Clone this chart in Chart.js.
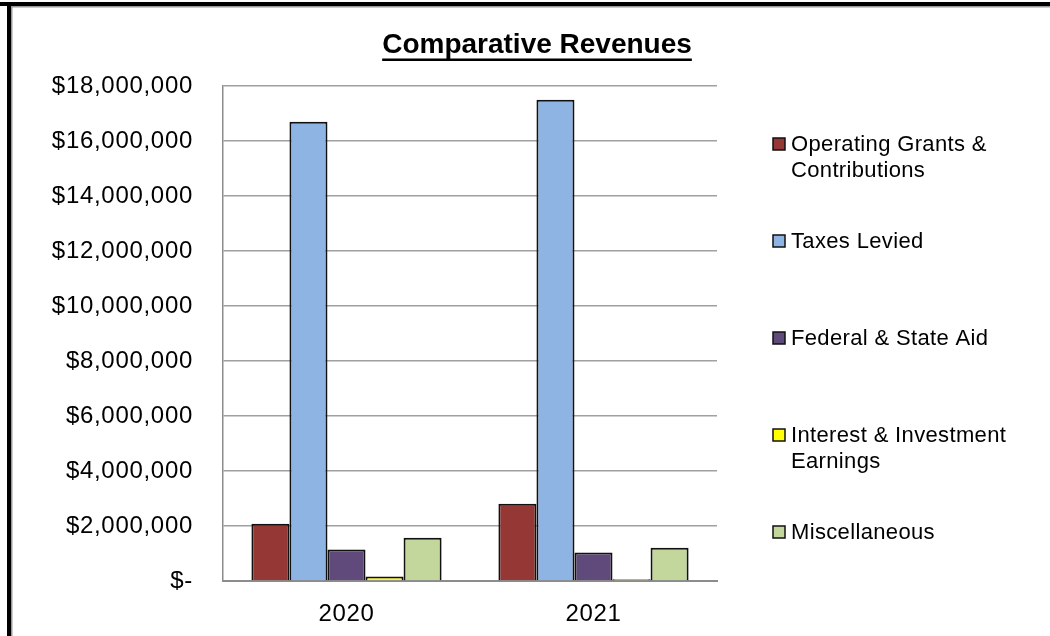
<!DOCTYPE html>
<html>
<head>
<meta charset="utf-8">
<title>Comparative Revenues</title>
<script src="https://cdn.jsdelivr.net/npm/chart.js@4.4.0/dist/chart.umd.min.js"></script>
<style>
  html, body { margin: 0; padding: 0; background: #ffffff; }
  #wrap { width: 1050px; height: 636px; position: relative; }
</style>
</head>
<body>
<div id="wrap"><canvas id="chart" width="1050" height="636"></canvas></div>
<script>
// Fiscal years shown on the category axis
const years = ['2020', '2021'];

// Revenue sources (series names)
const seriesNames = [
  'Operating Grants & Contributions',
  'Taxes Levied',
  'Federal & State Aid',
  'Interest & Investment Earnings',
  'Miscellaneous'
];

// Revenue by source, one value per year
const operatingGrants = [2080000, 2810000];
const taxesLevied = [16700000, 17500000];
const federalStateAid = [1150000, 1040000];
const interestEarnings = [160000, 60000];
const miscellaneous = [1570000, 1210000];

// Value axis tick labels (0 .. 18,000,000 in steps of 2,000,000)
const yTickLabels = ['$-', '$2,000,000', '$4,000,000', '$6,000,000', '$8,000,000',
  '$10,000,000', '$12,000,000', '$14,000,000', '$16,000,000', '$18,000,000'];

const seriesValues = [operatingGrants, taxesLevied, federalStateAid, interestEarnings, miscellaneous];
const seriesColors = ['#953735', '#8EB4E3', '#604A7B', '#FFFF00', '#C3D69B'];

const FONT = '"Liberation Sans", Arial, sans-serif';

// Frame, underlined title and the right-hand legend
const decorations = {
  id: 'decorations',
  beforeDraw(chart) {
    const ctx = chart.ctx;
    ctx.save();
    ctx.fillStyle = '#ffffff';
    ctx.fillRect(0, 0, chart.width, chart.height);
    // outer frame (top and left)
    ctx.fillStyle = '#000000';
    ctx.fillRect(0, 2, chart.width, 4);
    ctx.fillRect(7, 2, 4, chart.height);
    ctx.fillStyle = '#9a9a9a';
    ctx.fillRect(11, 6, chart.width - 11, 1.5);
    ctx.fillRect(11, 6, 1.5, chart.height);
    ctx.restore();
    // slightly open tracking for the axis labels
    ctx.letterSpacing = '0.7px';
  },
  afterDraw(chart) {
    const ctx = chart.ctx;
    ctx.save();
    ctx.letterSpacing = '0px';
    // title
    const title = 'Comparative Revenues';
    ctx.font = 'bold 28px ' + FONT;
    ctx.fillStyle = '#000000';
    ctx.textAlign = 'center';
    ctx.textBaseline = 'alphabetic';
    const tx = 537, ty = 53;
    ctx.fillText(title, tx, ty);
    const tw = ctx.measureText(title).width;
    ctx.fillRect(tx - tw / 2, 58.5, tw, 2.5);

    // legend
    ctx.font = '22px ' + FONT;
    ctx.letterSpacing = '0.35px';
    ctx.textAlign = 'left';
    ctx.textBaseline = 'middle';
    const boxX = 773, textX = 791, firstY = 144, step = 97, lineH = 26, maxW = 226;
    chart.data.datasets.forEach((ds, i) => {
      const y = firstY + i * step;
      ctx.fillStyle = ds.backgroundColor;
      ctx.fillRect(boxX, y - 6, 12, 12);
      ctx.strokeStyle = '#111111';
      ctx.lineWidth = 1.5;
      ctx.strokeRect(boxX, y - 6, 12, 12);
      // simple word wrap
      const words = ds.label.split(' ');
      const lines = [];
      let cur = '';
      words.forEach(w => {
        const test = cur ? cur + ' ' + w : w;
        if (ctx.measureText(test).width > maxW && cur) { lines.push(cur); cur = w; }
        else cur = test;
      });
      if (cur) lines.push(cur);
      ctx.fillStyle = '#000000';
      lines.forEach((ln, k) => ctx.fillText(ln, textX, y + 1 + k * lineH));
    });
    ctx.restore();
  }
};

new Chart(document.getElementById('chart'), {
  type: 'bar',
  data: {
    labels: years,
    datasets: seriesNames.map((name, i) => ({
      label: name,
      data: seriesValues[i],
      backgroundColor: seriesColors[i],
      borderColor: '#111111',
      borderWidth: 2,
      borderSkipped: 'start'
    }))
  },
  options: {
    responsive: false,
    devicePixelRatio: 1,
    animation: false,
    layout: { padding: { top: 86, right: 333, bottom: 0, left: 0 } },
    datasets: { bar: { categoryPercentage: 0.77, barPercentage: 1.0 } },
    plugins: {
      legend: { display: false },
      title: { display: false },
      tooltip: { enabled: false }
    },
    scales: {
      x: {
        grid: { display: false, drawTicks: false },
        border: { display: true, color: '#8c8c8c', width: 2 },
        ticks: { color: '#000000', font: { family: FONT, size: 24 }, padding: 19 },
        afterFit(scale) { scale.height = 55; }
      },
      y: {
        min: 0,
        max: 18000000,
        grid: { color: '#a0a0a0', lineWidth: 1.5, drawTicks: false },
        border: { display: true, color: '#8c8c8c', width: 1.5 },
        ticks: {
          stepSize: 2000000,
          color: '#000000',
          font: { family: FONT, size: 24 },
          padding: 30,
          callback: (v, idx) => yTickLabels[idx]
        },
        afterFit(scale) { scale.width = 223; }
      }
    }
  },
  plugins: [decorations]
});
</script>
</body>
</html>
